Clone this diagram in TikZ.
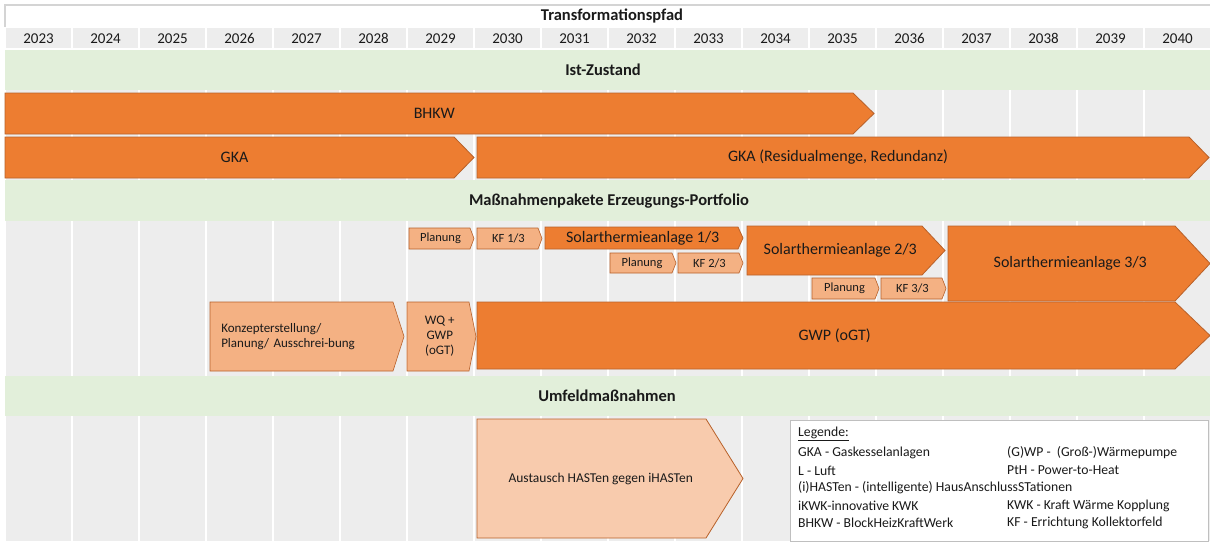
\documentclass[tikz,border=0pt]{standalone}
\usepackage{fontspec}
\setmainfont{Carlito}
\definecolor{org}{HTML}{ED7D31}
\definecolor{orgdark}{HTML}{B8612A}
\definecolor{orglt}{HTML}{F4B183}
\definecolor{orgxlt}{HTML}{F8CBAD}
\definecolor{grn}{HTML}{E2EFDA}
\definecolor{cellgray}{HTML}{EDEDED}
\definecolor{hdrline}{HTML}{D4D4D4}
\definecolor{legline}{HTML}{BFBFBF}
\definecolor{txt}{HTML}{1A1A1A}
\newcommand\myYear{\fontsize{15}{18}\selectfont}
\newcommand\myHead{\fontsize{16.5}{19}\selectfont\bfseries}
\newcommand\myBig{\fontsize{16}{19}\selectfont}
\newcommand\myMed{\fontsize{16}{19}\selectfont}
\newcommand\mySmall{\fontsize{12.5}{15}\selectfont}
\newcommand\myMid{\fontsize{13}{15}\selectfont}
\newcommand\myLeg{\fontsize{13.7}{16}\selectfont}
% #1 name, #2 shape style, #3 x1, #4 y1, #5 x tip, #6 y2, #7 tip depth, #8 node options, #9 text
\newcommand\penta[9]{%
  \draw[#2] (#3,#4) -- ({#5-#7},#4) -- (#5,{(#4+#6)/2}) -- ({#5-#7},#6) -- (#3,#6) -- cycle;
  \node[lbl,#8] (#1) at ({(#3+#5-#7/2)/2},{(#4+#6)/2}) {#9};}
\tikzset{
  bigarrow/.style={fill=org, draw=orgdark, line width=0.8pt, line join=miter},
  ltarrow/.style={fill=orglt, draw=orgdark, line width=0.6pt},
  xltarrow/.style={fill=orgxlt, draw=orgdark, line width=0.8pt},
  lbl/.style={inner sep=0pt, text=txt, align=center},
  band/.style={fill=grn},
  legtxt/.style={inner sep=0pt, anchor=west, text=txt, font=\myLeg}
}
\begin{document}
\begin{tikzpicture}[x=1pt,y=-1pt]
\useasboundingbox (0,0) rectangle (1210,543);
\fill[white] (0,0) rectangle (1210,543);
% header
\draw[hdrline, line width=1.5pt] (5,27) -- (5,5) -- (1210,5);
\node[lbl, font=\myHead] (title) at (612,16) {Transformationspfad};
% year cells and background columns
\foreach \k in {0,...,17}{
  \pgfmathtruncatemacro{\yr}{2023+\k}
  \fill[cellgray] ({5+67*\k+1},28) rectangle ({min(1210,5+67*(\k+1)-1)},48);
  \fill[cellgray] ({5+67*\k+1},50) rectangle ({min(1210,5+67*(\k+1)-1)},541);
  \node[lbl, font=\myYear] (y\yr) at ({5+67*\k+33.5},38.5) {\yr};
}
% green bands
\fill[band] (5,50) rectangle (1210,90);
\node[lbl, font=\myHead] (band1) at (603,70) {Ist-Zustand};
\fill[band] (5,180) rectangle (1210,221);
\node[lbl, font=\myHead] (band2) at (609,201) {Maßnahmenpakete Erzeugungs-Portfolio};
\fill[band] (5,376) rectangle (1210,416);
\node[lbl, font=\myHead] (band3) at (607,396) {Umfeldmaßnahmen};
% Ist-Zustand
\penta{bhkw}{bigarrow}{5}{93}{874}{134}{21}{font=\myMed}{BHKW}
\penta{gka}{bigarrow}{5}{137}{474}{178}{20}{font=\myMed}{GKA}
\penta{gkares}{bigarrow}{477}{137}{1209}{178}{20}{font=\myMed}{GKA (Residualmenge, Redundanz)}
% Erzeugungs-Portfolio
\penta{plan1}{ltarrow}{409}{228}{474}{249}{4}{font=\mySmall}{Planung}
\penta{kf1}{ltarrow}{477}{228}{542}{249}{4}{font=\mySmall}{KF 1/3}
\penta{solar1}{bigarrow}{545}{227}{743}{249}{5}{font=\myBig}{Solarthermieanlage 1/3}
\penta{plan2}{ltarrow}{610}{253}{676}{273}{4}{font=\mySmall}{Planung}
\penta{kf2}{ltarrow}{678}{253}{743}{273}{4}{font=\mySmall}{KF 2/3}
\penta{solar2}{bigarrow}{747}{226}{945}{275}{23}{font=\myBig}{Solarthermieanlage 2/3}
\penta{plan3}{ltarrow}{812}{278}{879}{299}{4}{font=\mySmall}{Planung}
\penta{kf3}{ltarrow}{881}{278}{946}{299}{4}{font=\mySmall}{KF 3/3}
\penta{solar3}{bigarrow}{948}{226}{1210}{301}{35}{font=\myBig}{Solarthermieanlage 3/3}
\penta{konzept}{ltarrow}{210}{302}{404}{371}{11}{font=\myMid, text width=166pt, align=left}{Konzepterstellung/\\Planung/ Ausschrei-bung}
\penta{wq}{ltarrow}{407}{302}{476}{371}{7}{font=\myMid}{WQ +\\GWP\\(oGT)}
\penta{gwp}{bigarrow}{477}{302}{1210}{369}{35}{font=\myBig}{GWP (oGT)}
% Umfeld
\penta{hast}{xltarrow}{477}{419}{743}{538}{37}{font=\fontsize{13.5}{16}\selectfont}{Austausch HASTen gegen iHASTen}
% legend
\node[draw=legline, fill=white, line width=1pt, minimum width=418pt, minimum height=121pt, anchor=north west, inner sep=0pt] (legend) at (790,420) {};
\node[legtxt] (lg0) at (798,434) {\underline{Legende:}};
\node[legtxt] (lg1) at (798,453) {GKA - Gaskesselanlagen};
\node[legtxt] (lg2) at (1007,453) {(G)WP -\ \ (Groß-)Wärmepumpe};
\node[legtxt] (lg3) at (798,470.5) {L - Luft};
\node[legtxt] (lg4) at (1007,470.5) {PtH - Power-to-Heat};
\node[legtxt] (lg5) at (798,488) {(i)HASTen - (intelligente) HausAnschlussSTationen};
\node[legtxt] (lg6) at (798,505.5) {iKWK-innovative KWK};
\node[legtxt] (lg7) at (1007,505.5) {KWK - Kraft Wärme Kopplung};
\node[legtxt] (lg8) at (798,523) {BHKW - BlockHeizKraftWerk};
\node[legtxt] (lg9) at (1007,523) {KF - Errichtung Kollektorfeld};
\end{tikzpicture}
\end{document}
